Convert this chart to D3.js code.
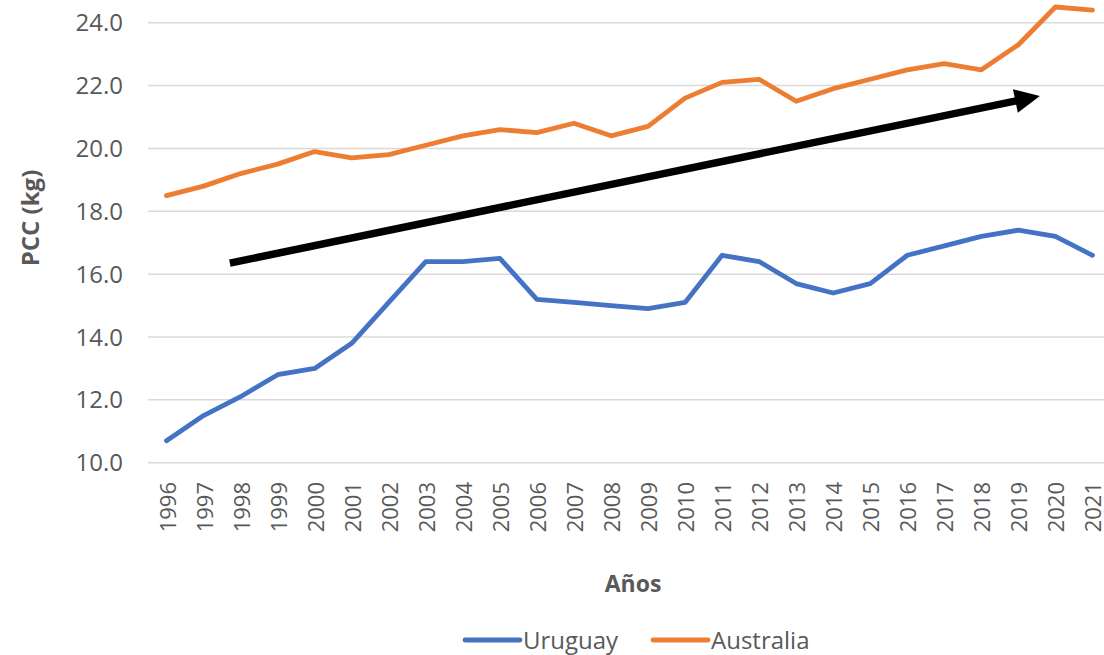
<!DOCTYPE html>
<html>
<head>
<meta charset="utf-8">
<script src="https://cdn.jsdelivr.net/npm/d3@7"></script>
<style>
  body { margin: 0; background: #ffffff; }
  text { font-family: "Open Sans", "Liberation Sans", sans-serif; fill: #595959; }
</style>
</head>
<body>
<script>
(function () {

var years = [1996, 1997, 1998, 1999, 2000, 2001, 2002, 2003, 2004, 2005, 2006, 2007, 2008,
             2009, 2010, 2011, 2012, 2013, 2014, 2015, 2016, 2017, 2018, 2019, 2020, 2021]

var uruguay = [10.7, 11.5, 12.1, 12.8, 13.0, 13.8, 15.1, 16.4, 16.4, 16.5, 15.2, 15.1, 15.0,
               14.9, 15.1, 16.6, 16.4, 15.7, 15.4, 15.7, 16.6, 16.9, 17.2, 17.4, 17.2, 16.6]

var australia = [18.5, 18.8, 19.2, 19.5, 19.9, 19.7, 19.8, 20.1, 20.4, 20.6, 20.5, 20.8, 20.4,
                 20.7, 21.6, 22.1, 22.2, 21.5, 21.9, 22.2, 22.5, 22.7, 22.5, 23.3, 24.5, 24.4]

var yTicks = [10, 12, 14, 16, 18, 20, 22, 24]

var seriesNames = ['Uruguay', 'Australia']

// trend arrow, start and end as [year, kg]
var trendArrow = [[1997.71, 16.35], [2019.58, 21.67]]

var width = 1104,
height = 655;

var svg = d3.select("body")
.append("svg")
.attr("width", width)
.attr("height", height)

var plotLeft = 148,
plotRight = 1111;

var x = d3.scalePoint().domain(years).range([plotLeft, plotRight]).padding(0.5)
var xYear = d3.scaleLinear().domain([years[0], years[years.length - 1]])
  .range([x(years[0]), x(years[years.length - 1])])
var y = d3.scaleLinear().domain([10, 24]).range([462.7, 22.7])
var color = d3.scaleOrdinal().domain(seriesNames).range(['#4472C4', '#ED7D31'])

// gridlines
svg.append("g")
.selectAll("line")
.data(yTicks)
.enter().append("line")
.attr("x1", plotLeft)
.attr("x2", width)
.attr("y1", function(d) { return y(d) })
.attr("y2", function(d) { return y(d) })
.attr("stroke", "#d9d9d9")
.attr("stroke-width", 1.5)

// y tick labels
svg.append("g")
.selectAll("text")
.data(yTicks)
.enter().append("text")
.attr("x", 123)
.attr("y", function(d) { return y(d) })
.attr("dy", "0.36em")
.attr("text-anchor", "end")
.style("font-size", "24px")
.text(function(d) { return d.toFixed(1) })

// x tick labels, rotated
svg.append("g")
.selectAll("text")
.data(years)
.enter().append("text")
.attr("transform", function(d) {
  return "translate(" + (x(d) + 9) + " 482) rotate(-90)"
})
.attr("text-anchor", "end")
.style("font-size", "22px")
.text(function(d) { return d })

// axis titles
svg.append("text")
.attr("transform", "translate(39 218) rotate(-90)")
.attr("text-anchor", "middle")
.style("font-size", "24px")
.style("font-weight", "bold")
.text("PCC (kg)")

svg.append("text")
.attr("x", 633)
.attr("y", 592)
.attr("text-anchor", "middle")
.style("font-size", "23px")
.style("font-weight", "bold")
.text("Años")

// series lines
var line = d3.line()
.x(function(d, i) { return x(years[i]) })
.y(function(d) { return y(d) })

var series = [uruguay, australia]

svg.append("g")
.selectAll("path")
.data(series)
.enter().append("path")
.attr("d", function(d) { return line(d) })
.attr("fill", "none")
.attr("stroke", function(d, i) { return color(seriesNames[i]) })
.attr("stroke-width", 4.8)
.attr("stroke-linejoin", "round")
.attr("stroke-linecap", "round")

// trend arrow
var x0 = xYear(trendArrow[0][0]), y0 = y(trendArrow[0][1]),
x1 = xYear(trendArrow[1][0]), y1 = y(trendArrow[1][1]);
var ang = Math.atan2(y1 - y0, x1 - x0)
var headLen = 25, headHalf = 12
var bx = x1 - headLen * Math.cos(ang), by = y1 - headLen * Math.sin(ang)

svg.append("line")
.attr("x1", x0)
.attr("y1", y0)
.attr("x2", bx + 2 * Math.cos(ang))
.attr("y2", by + 2 * Math.sin(ang))
.attr("stroke", "#000000")
.attr("stroke-width", 7.5)

svg.append("path")
.attr("d", "M" + x1 + "," + y1 +
  "L" + (bx - headHalf * Math.sin(ang)) + "," + (by + headHalf * Math.cos(ang)) +
  "L" + (bx + headHalf * Math.sin(ang)) + "," + (by - headHalf * Math.cos(ang)) + "Z")
.attr("fill", "#000000")

// legend
var legendX = [465, 653]

var legend = svg.append("g")
.selectAll("g")
.data(seriesNames)
.enter().append("g")
.attr("transform", function(d, i) { return "translate(" + legendX[i] + " 640)" })

legend.append("line")
.attr("x1", 0)
.attr("x2", 55)
.attr("stroke", function(d) { return color(d) })
.attr("stroke-width", 4.8)
.attr("stroke-linecap", "round")

legend.append("text")
.attr("x", 58)
.attr("dy", "0.36em")
.style("font-size", "24px")
.text(function(d) { return d })

}())
</script>
</body>
</html>
